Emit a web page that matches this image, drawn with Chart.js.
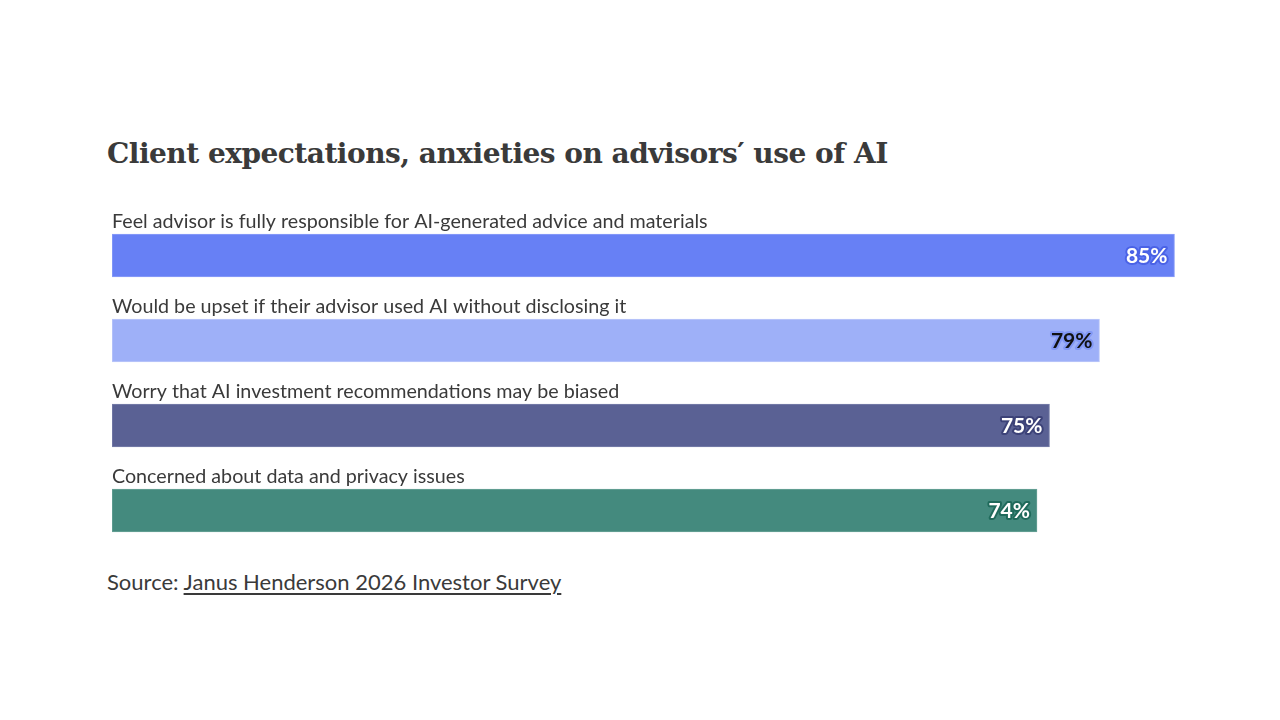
<!DOCTYPE html>
<html>
<head>
<meta charset="utf-8">
<script src="https://cdn.jsdelivr.net/npm/chart.js@4"></script>
<style>
    html, body { margin: 0; padding: 0; background: #fff; overflow: hidden; }
    body { width: 1280px; height: 720px; position: relative; }
    h1 {
        position: absolute; left: 107px; top: 137px; margin: 0;
        font-family: "DejaVu Serif", serif; font-weight: bold; font-size: 28px;
        color: #3a3a3a; letter-spacing: -0.5px;
    }
    .chart-box { position: absolute; left: 112px; top: 198px; width: 1250px; height: 355px; }
    .source {
        position: absolute; left: 107px; top: 568px;
        font-family: Lato, sans-serif; font-size: 22px; color: #3a3a3a;
    }
    .source a { color: #3a3a3a; text-decoration: underline; text-underline-offset: 3px; }
</style>
</head>
<body>
<h1>Client expectations, anxieties on advisors′ use of AI</h1>
<div class="chart-box"><canvas id="aiChart"></canvas></div>
<div class="source">Source: <a href="#">Janus Henderson 2026 Investor Survey</a></div>

<script>
const categories = [
    'Feel advisor is fully responsible for AI-generated advice and materials',
    'Would be upset if their advisor used AI without disclosing it',
    'Worry that AI investment recommendations may be biased',
    'Concerned about data and privacy issues'
];
const shares = [85, 79, 75, 74];
const barColors = ['#6780f5', '#9eb0f8', '#5a6194', '#448a7e'];
const barEdges = ['#8c9ff8', '#bcc8fa', '#7a80ab', '#6aa398'];
const textColors = ['#ffffff', '#111111', '#ffffff', '#ffffff'];
const haloColors = ['#4a62e6', '#8298f5', '#3c4278', '#1f6a5b'];

// category text above each bar + value labels inside the bar end
const barText = {
    id: 'barText',
    afterDatasetsDraw(chart) {
        const ctx = chart.ctx;
        const meta = chart.getDatasetMeta(0);
        const yScale = chart.scales.y;
        ctx.save();
        meta.data.forEach((bar, i) => {
            const cy = yScale.getPixelForValue(i);
            ctx.font = '19.7px Lato, sans-serif';
            ctx.fillStyle = '#3a3a3a';
            ctx.textAlign = 'left';
            ctx.textBaseline = 'middle';
            ctx.fillText(categories[i], 0, cy - 34);

            ctx.font = 'bold 21px Lato, sans-serif';
            ctx.textAlign = 'right';
            ctx.lineJoin = 'round';
            ctx.lineWidth = 4;
            ctx.strokeStyle = haloColors[i];
            ctx.strokeText(shares[i] + '%', bar.x - 7, cy + 1);
            ctx.fillStyle = textColors[i];
            ctx.fillText(shares[i] + '%', bar.x - 7, cy + 1);
        });
        ctx.restore();
    }
};

new Chart(document.getElementById('aiChart'), {
    type: 'bar',
    data: {
        labels: categories,
        datasets: [{
            data: shares,
            backgroundColor: barColors,
            borderColor: barEdges,
            borderWidth: 1,
            borderSkipped: false,
            barThickness: 43
        }]
    },
    options: {
        indexAxis: 'y',
        responsive: true,
        maintainAspectRatio: false,
        animation: false,
        layout: { padding: { top: 15, bottom: 0, left: 0, right: 0 } },
        plugins: {
            legend: { display: false },
            tooltip: { enabled: false }
        },
        scales: {
            x: { display: false, min: 0, max: 100 },
            y: { display: false }
        }
    },
    plugins: [barText]
});
</script>
</body>
</html>
